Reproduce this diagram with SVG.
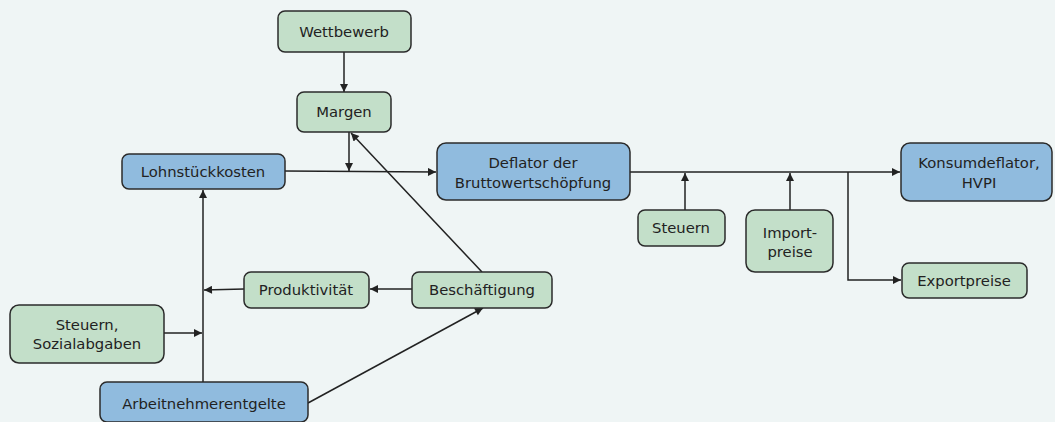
<svg xmlns="http://www.w3.org/2000/svg" width="1055" height="422" viewBox="0 0 1055 422">
<style>
.g{fill:#c3dfc9;stroke:#2b2b2b;stroke-width:1.5}
.b{fill:#90bbde;stroke:#2b2b2b;stroke-width:1.5}
text{font-family:"DejaVu Sans","Liberation Sans",sans-serif;font-size:14.8px;fill:#222;text-anchor:middle}
.c line,.c polyline{stroke:#222;stroke-width:1.5;fill:none;marker-end:url(#a)}
</style>
<defs>
<marker id="a" viewBox="0 0 10 10" refX="10" refY="5" markerWidth="9" markerHeight="8" orient="auto" markerUnits="userSpaceOnUse">
<path d="M0,0L10,5L0,10z" fill="#222"/>
</marker>
</defs>
<rect width="1055" height="422" fill="#eff5f5"/>
<g class="c" id="connectors">
<line x1="344" y1="52" x2="344" y2="92"/>
<line x1="285" y1="171" x2="436" y2="172"/>
<line x1="349" y1="132" x2="349" y2="171"/>
<line x1="482" y1="272" x2="351" y2="133"/>
<line x1="630" y1="172" x2="900" y2="172"/>
<line x1="685" y1="210" x2="685" y2="173"/>
<line x1="790" y1="210" x2="790" y2="173"/>
<polyline points="848,172 848,280 901,280"/>
<line x1="203" y1="382" x2="203" y2="190"/>
<line x1="244" y1="289" x2="204" y2="290"/>
<line x1="412" y1="289" x2="370" y2="289"/>
<line x1="164" y1="333" x2="202" y2="333"/>
<line x1="308" y1="403" x2="483" y2="308"/>
</g>
<g id="wettbewerb"><rect class="g" x="278" y="11" width="133" height="41" rx="7"/><text x="344" y="37">Wettbewerb</text></g>
<g id="margen"><rect class="g" x="297" y="92" width="94" height="40" rx="7"/><text x="344" y="117">Margen</text></g>
<g id="lohnstueckkosten"><rect class="b" x="122" y="154" width="163" height="35" rx="7"/><text x="203" y="177">Lohnstückkosten</text></g>
<g id="deflator"><rect class="b" x="437" y="143" width="193" height="57" rx="9"/><text x="533" y="168">Deflator der</text><text x="533" y="188">Bruttowertschöpfung</text></g>
<g id="steuern"><rect class="g" x="638" y="210" width="87" height="36" rx="7"/><text x="681" y="233">Steuern</text></g>
<g id="importpreise"><rect class="g" x="746" y="210" width="87" height="62" rx="9"/><text x="790" y="238">Import-</text><text x="790" y="257">preise</text></g>
<g id="konsumdeflator"><rect class="b" x="901" y="143" width="151" height="58" rx="9"/><text x="979" y="168">Konsumdeflator,</text><text x="979" y="188">HVPI</text></g>
<g id="exportpreise"><rect class="g" x="902" y="263" width="125" height="35" rx="7"/><text x="964" y="286">Exportpreise</text></g>
<g id="produktivitaet"><rect class="g" x="244" y="272" width="125" height="36" rx="7"/><text x="306" y="295">Produktivität</text></g>
<g id="beschaeftigung"><rect class="g" x="412" y="272" width="140" height="36" rx="7"/><text x="482" y="295">Beschäftigung</text></g>
<g id="steuern-sozialabgaben"><rect class="g" x="10" y="305" width="154" height="58" rx="9"/><text x="87" y="330">Steuern,</text><text x="87" y="349">Sozialabgaben</text></g>
<g id="arbeitnehmerentgelte"><rect class="b" x="100" y="382" width="208" height="40" rx="7"/><text x="204" y="409">Arbeitnehmerentgelte</text></g>
</svg>
